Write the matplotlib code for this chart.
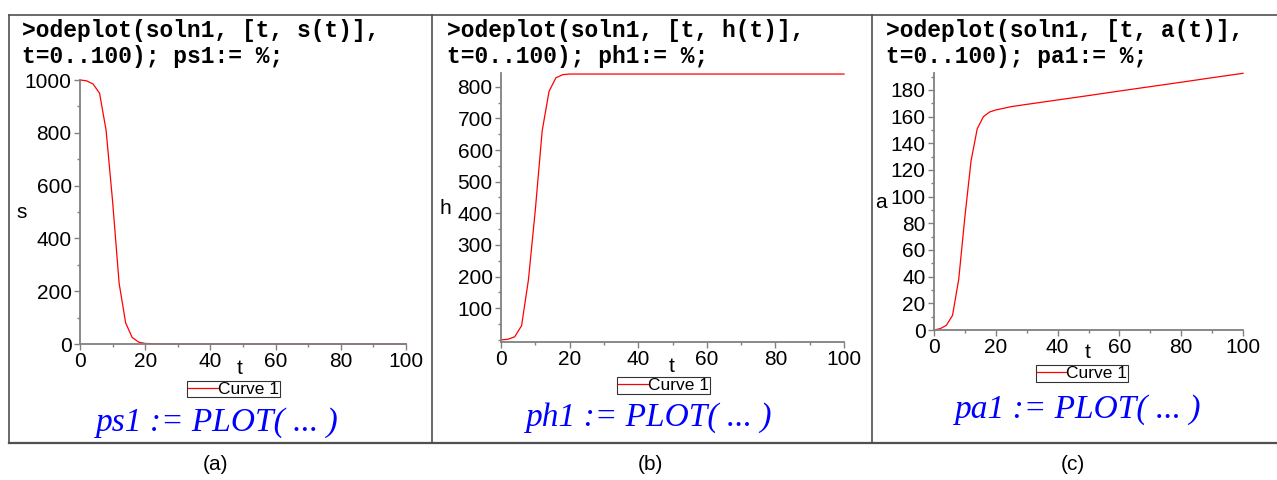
import matplotlib
matplotlib.use("Agg")
import matplotlib.pyplot as plt
from matplotlib.lines import Line2D
from matplotlib.ticker import MultipleLocator, FixedLocator

# ---------------- data ----------------
t_vals = [0, 2, 4, 6, 8, 10, 12, 14, 16, 18, 20, 25, 30, 40, 50, 60, 70, 80, 90, 100]
s_vals = [1000, 997, 985, 950, 810, 540, 230, 80, 25, 7, 2, 0.3, 0, 0, 0, 0, 0, 0, 0, 0]
h_vals = [0, 2, 10, 45, 190, 410, 660, 785, 828, 838, 840, 840, 840, 840, 840, 840, 840, 840, 840, 840]
a_vals = [0, 1, 3.5, 11, 38, 85, 127, 151, 160, 163.5, 165, 167.5, 169.2, 172.5,
          175.8, 179.2, 182.5, 185.8, 189.2, 192.5]

x_ticks = [0, 20, 40, 60, 80, 100]
s_ticks = [0, 200, 400, 600, 800, 1000]
h_ticks = [100, 200, 300, 400, 500, 600, 700, 800]
a_ticks = [0, 20, 40, 60, 80, 100, 120, 140, 160, 180]

commands = [
    (">odeplot(soln1, [t, s(t)],", "t=0..100); ps1:= %;"),
    (">odeplot(soln1, [t, h(t)],", "t=0..100); ph1:= %;"),
    (">odeplot(soln1, [t, a(t)],", "t=0..100); pa1:= %;"),
]
results = ["ps1 := PLOT( ... )", "ph1 := PLOT( ... )", "pa1 := PLOT( ... )"]
ylabels = ["s", "h", "a"]
captions = ["(a)", "(b)", "(c)"]
legend_label = "Curve 1"

# ---------------- layout ----------------
W, H = 1277, 480
fig = plt.figure(figsize=(W / 100, H / 100), dpi=100)


def fx(x):
    return x / W


def fy(y):
    return 1 - y / H


def rect(l, r, t, b):
    return [fx(l), fy(b), (r - l) / W, (b - t) / H]


GRAY = "#808080"
BORDER = "#505050"
sans = "Liberation Sans"

panels = [
    dict(rect=rect(80, 406, 80, 344), y=s_vals, ylim=(0, 1000), yt=s_ticks, yminor=100,
         xtext=22, ylab=(22, 213), tlab=(240, 369), leg=(233.5, 389), res=(217, 423), cap=215),
    dict(rect=rect(501, 844, 73.4, 341.5), y=h_vals, ylim=(-5, 842), yt=h_ticks, yminor=50,
         xtext=447, ylab=(445, 209), tlab=(672, 366), leg=(663.5, 385.5), res=(649, 418), cap=650),
    dict(rect=rect(934, 1243, 73.3, 330), y=a_vals, ylim=(0, 192.5), yt=a_ticks, yminor=10,
         xtext=886, ylab=(881, 202), tlab=(1088, 353), leg=(1082, 373.5), res=(1078, 410), cap=1073),
]

for i, p in enumerate(panels):
    ax = fig.add_axes(p["rect"])
    ax.plot(t_vals, p["y"], color="#ff0000", lw=0.9, label=legend_label, clip_on=False)
    ax.set_xlim(0, 100)
    ax.set_ylim(*p["ylim"])
    for side in ("top", "right"):
        ax.spines[side].set_visible(False)
    for side in ("left", "bottom"):
        ax.spines[side].set_color(GRAY)
        ax.spines[side].set_linewidth(1.3)
    ax.xaxis.set_major_locator(FixedLocator(x_ticks))
    ax.xaxis.set_minor_locator(MultipleLocator(10))
    ax.yaxis.set_major_locator(FixedLocator(p["yt"]))
    ax.yaxis.set_minor_locator(MultipleLocator(p["yminor"]))
    ax.tick_params(which="major", length=4, width=1, color=GRAY, labelsize=15,
                   labelcolor="black", pad=2)
    ax.tick_params(which="minor", length=2.5, width=1, color=GRAY)
    for lab in ax.get_xticklabels() + ax.get_yticklabels():
        lab.set_fontfamily(sans)
    ax.patch.set_alpha(0)

    # legend
    leg = ax.legend(loc="center", bbox_to_anchor=(fx(p["leg"][0]), fy(p["leg"][1])),
                    bbox_transform=fig.transFigure, frameon=True, fancybox=False,
                    prop={"family": sans, "size": 12.5}, handlelength=1.7,
                    handletextpad=0.0, borderpad=0.05, borderaxespad=0)
    leg.get_frame().set_edgecolor("black")
    leg.get_frame().set_linewidth(0.8)

    # command text
    fig.text(fx(p["xtext"]), fy(30), commands[i][0], family="Liberation Mono",
             weight="bold", fontsize=16.5, ha="left", va="center")
    fig.text(fx(p["xtext"]), fy(57), commands[i][1], family="Liberation Mono",
             weight="bold", fontsize=16.5, ha="left", va="center")
    # axis labels
    fig.text(fx(p["ylab"][0]), fy(p["ylab"][1]), ylabels[i], family=sans, fontsize=15,
             ha="center", va="center")
    fig.text(fx(p["tlab"][0]), fy(p["tlab"][1]), "t", family=sans, fontsize=15,
             ha="center", va="center")
    # result line
    fig.text(fx(p["res"][0]), fy(p["res"][1]), results[i], family="Liberation Serif",
             style="italic", fontsize=24, color="#0000ff", ha="center", va="center")
    # caption
    fig.text(fx(p["cap"]), fy(465), captions[i], family=sans, fontsize=15,
             ha="center", va="center")

# panel borders
lines = [
    ((9, 1277), (15, 15), 1.2),
    ((9, 1277), (442.5, 442.5), 1.6),
    ((9, 9), (15, 442.5), 1.2),
    ((432, 432), (15, 442.5), 1.2),
    ((872, 872), (15, 442.5), 1.2),
]
for xs, ys, lw in lines:
    fig.add_artist(Line2D([fx(x) for x in xs], [fy(y) for y in ys], color=BORDER,
                          lw=lw, transform=fig.transFigure))

fig.savefig("out.png", dpi=100, facecolor="white")
